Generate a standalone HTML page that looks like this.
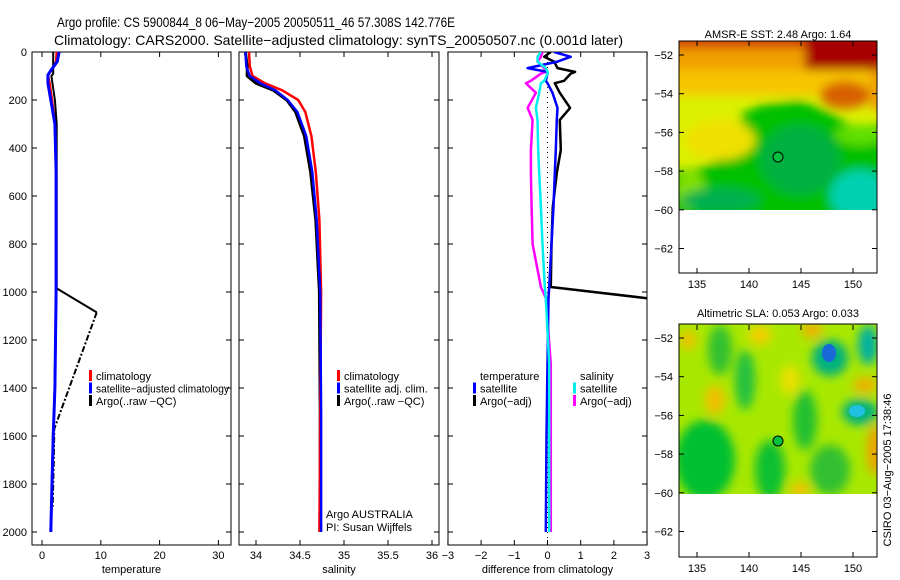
<!DOCTYPE html>
<html><head><meta charset="utf-8"><style>
body{margin:0;background:#fff}
svg{display:block;font-family:"Liberation Sans",sans-serif}
text{fill:#000}
</style></head><body>
<svg id="s" width="900" height="580" viewBox="0 0 900 580">
<defs>
<filter id="bl" x="-20%" y="-20%" width="140%" height="140%"><feGaussianBlur stdDeviation="5"/></filter>
<clipPath id="c1"><rect x="679" y="41" width="198" height="169"/></clipPath>
<clipPath id="c2"><rect x="679" y="324" width="198" height="170"/></clipPath>
<clipPath id="cp3"><rect x="448" y="52" width="199" height="493"/></clipPath>
</defs>
<text x="57" y="27" font-size="14" textLength="398" lengthAdjust="spacingAndGlyphs">Argo profile: CS 5900844_8 06−May−2005 20050511_46 57.308S 142.776E</text>
<text x="54" y="45" font-size="14" textLength="569" lengthAdjust="spacingAndGlyphs">Climatology: CARS2000. Satellite−adjusted climatology: synTS_20050507.nc (0.001d later)</text>

<g>
<text x="778" y="38" font-size="11" text-anchor="middle">AMSR-E SST: 2.48 Argo: 1.64</text>
<g clip-path="url(#c1)">
<rect x="679" y="41" width="198" height="169" fill="#dcf000"/>
<g filter="url(#bl)">
<rect x="660" y="30" width="240" height="45" fill="#f0a000"/>
<rect x="660" y="70" width="240" height="25" fill="#f8c400"/>
<rect x="660" y="30" width="240" height="18" fill="#d04000"/>
<rect x="805" y="30" width="90" height="40" fill="#a80000"/>
<ellipse cx="845" cy="95" rx="25" ry="14" fill="#d86000"/>
<rect x="870" y="70" width="20" height="40" fill="#f0a000"/>
<polygon points="740,115 760,105 800,100 830,112 850,125 890,125 890,230 660,230 660,172 700,168 730,155 745,135" fill="#00c000"/>
<ellipse cx="690" cy="190" rx="15" ry="20" fill="#80e000"/>
<ellipse cx="860" cy="135" rx="25" ry="10" fill="#60e000"/>
<ellipse cx="800" cy="160" rx="40" ry="35" fill="#00b040"/>
<ellipse cx="860" cy="195" rx="30" ry="25" fill="#00d0b0"/>
<ellipse cx="720" cy="200" rx="40" ry="12" fill="#00b050"/>
<ellipse cx="720" cy="140" rx="35" ry="20" fill="#f0e000"/>
</g>
</g>
<circle cx="778" cy="157" r="5" fill="#00c040" stroke="#000" stroke-width="1"/>
<rect x="679" y="41" width="198" height="232" fill="none" stroke="#000"/>
</g>

<g>
<text x="778" y="317" font-size="11" text-anchor="middle">Altimetric SLA: 0.053 Argo: 0.033</text>
<g clip-path="url(#c2)">
<rect x="679" y="324" width="198" height="170" fill="#a8e800"/>
<g filter="url(#bl)">
<ellipse cx="705" cy="460" rx="30" ry="40" fill="#00c030"/>
<ellipse cx="720" cy="350" rx="12" ry="25" fill="#30c030"/>
<ellipse cx="745" cy="380" rx="10" ry="30" fill="#20c040"/>
<ellipse cx="770" cy="470" rx="15" ry="30" fill="#10c030"/>
<ellipse cx="805" cy="420" rx="12" ry="30" fill="#20c030"/>
<ellipse cx="830" cy="470" rx="20" ry="25" fill="#30c030"/>
<ellipse cx="715" cy="400" rx="10" ry="15" fill="#f0c000"/>
<ellipse cx="688" cy="340" rx="8" ry="10" fill="#f0c000"/>
<ellipse cx="760" cy="335" rx="12" ry="10" fill="#f0d000"/>
<ellipse cx="812" cy="330" rx="10" ry="8" fill="#f0b000"/>
<ellipse cx="875" cy="450" rx="8" ry="25" fill="#f0a000"/>
<ellipse cx="865" cy="385" rx="12" ry="8" fill="#f0b000"/>
<ellipse cx="790" cy="380" rx="10" ry="15" fill="#e8e000"/>
<ellipse cx="800" cy="490" rx="10" ry="8" fill="#f0c000"/>
<ellipse cx="830" cy="358" rx="18" ry="18" fill="#00b080"/>
<ellipse cx="860" cy="412" rx="18" ry="13" fill="#00b080"/>
<ellipse cx="868" cy="345" rx="10" ry="20" fill="#00b0a0"/>
</g>
<ellipse cx="829" cy="353" rx="7" ry="9" fill="#1868d8"/>
<ellipse cx="857" cy="411" rx="8" ry="6" fill="#20c0e0"/>
</g>
<circle cx="778" cy="441" r="5" fill="#00c040" stroke="#000" stroke-width="1"/>
<rect x="679" y="324" width="198" height="233" fill="none" stroke="#000"/>
</g>
<text transform="translate(891,470) rotate(-90)" font-size="11" text-anchor="middle">CSIRO 03−Aug−2005 17:38:46</text>
<g id="axes"></g>
<g id="marks"></g>
<g id="marks3" clip-path="url(#cp3)"></g>
</svg>
<script>
const tDepth = [0, 40, 70, 96, 130, 200, 300, 500, 800, 1000, 1200, 1400, 1600, 1800, 2000];
const tClim  = [2.5, 2.4, 1.8, 1.0, 1.3, 1.7, 2.2, 2.4, 2.4, 2.4, 2.3, 2.2, 1.9, 1.7, 1.5];
const tSat   = [2.9, 2.6, 1.7, 1.0, 1.0, 1.5, 2.2, 2.4, 2.4, 2.4, 2.3, 2.2, 1.9, 1.7, 1.5];
const tArgoDepth = [0, 90, 100, 200, 300, 500, 800, 985, 1085, 1570, 1700, 1900];
const tArgo      = [1.9, 1.9, 1.6, 2.2, 2.5, 2.5, 2.5, 2.5, 9.3, 2.1, 2.0, 1.8];
const sDepth = [0, 60, 100, 130, 160, 200, 250, 350, 500, 700, 1000, 1500, 2000];
const sClim  = [33.92, 33.93, 33.96, 34.1, 34.3, 34.48, 34.56, 34.63, 34.68, 34.72, 34.74, 34.73, 34.72];
const sSat   = [33.88, 33.89, 33.93, 34.05, 34.22, 34.36, 34.47, 34.57, 34.64, 34.69, 34.73, 34.74, 34.74];
const sArgo  = [33.88, 33.9, 33.9, 34.0, 34.2, 34.35, 34.45, 34.55, 34.62, 34.68, 34.72, 34.73, 34.73];
const dDepth  = [0, 20, 40, 67, 83, 90, 120, 130, 170, 233, 283, 408, 504, 645, 800, 979, 1025, 1300, 1600, 2000];
const dTSat   = [0.2, 0.7, 0.3, -0.6, 0.0, 0.0, -0.05, 0.0, 0.15, 0.3, 0.28, 0.25, 0.22, 0.18, 0.12, 0.05, 0.03, 0.0, -0.03, -0.05];
const dTArgoDepth = [0, 20, 40, 67, 83, 90, 120, 130, 170, 233, 283, 408, 504, 645, 800, 979, 1029];
const dTArgo  = [0.1, -0.1, 0.2, 0.3, 0.83, 0.7, 0.5, 0.22, 0.37, 0.68, 0.37, 0.4, 0.28, 0.16, 0.12, 0.1, 3.2];
const dSSat   = [-0.2, -0.3, -0.3, -0.05, 0.0, 0.0, -0.1, -0.2, -0.25, -0.35, -0.3, -0.28, -0.25, -0.2, -0.15, -0.08, -0.05, 0.05, 0.05, 0.05];
const dSArgo  = [-0.15, -0.2, -0.3, -0.1, -0.05, -0.2, -0.5, -0.65, -0.35, -0.6, -0.45, -0.5, -0.5, -0.48, -0.45, -0.2, -0.05, 0.1, 0.1, 0.1];
const depthTicks = [0, 200, 400, 600, 800, 1000, 1200, 1400, 1600, 1800, 2000];
const tTicks = [0, 10, 20, 30];
const sTicks = [34, 34.5, 35, 35.5, 36];
const sTickLabels = ["34", "34.5", "35", "35.5", "36"];
const dTicks = [-3, -2, -1, 0, 1, 2, 3];
const latTicks = [-52, -54, -56, -58, -60, -62];
const lonTicks = [135, 140, 145, 150];

const NS = "http://www.w3.org/2000/svg";
const axesG = document.getElementById('axes'), marksG = document.getElementById('marks'), marks3 = document.getElementById('marks3');
function mk(tag, attrs, parent, txt) {
  const e = document.createElementNS(NS, tag);
  for (const k in attrs) e.setAttribute(k, attrs[k]);
  if (txt !== undefined) e.textContent = txt;
  parent.appendChild(e); return e;
}
const Y = d => 52 + 0.24 * d;
const panels = [
  {x0: 32, x1: 231, X: v => 42 + 5.88 * v, ticks: tTicks, labels: tTicks.map(String), label: "temperature", name: "temperature"},
  {x0: 239, x1: 439, X: v => 256 + 88 * (v - 34), ticks: sTicks, labels: sTickLabels, label: "salinity", name: "salinity"},
  {x0: 448, x1: 647, X: v => 547.5 + 33.2 * v, ticks: dTicks, labels: dTicks.map(v => v < 0 ? "−" + (-v) : String(v)), label: "difference from climatology", name: "difference"}
];
panels.forEach((p, i) => {
  const fr = mk('rect', {x: p.x0, y: 52, width: p.x1 - p.x0, height: 493, fill: 'none', stroke: '#000'}, axesG);
  
  
  p.ticks.forEach((t, j) => {
    const x = p.X(t);
    mk('line', {x1: x, x2: x, y1: 545, y2: 540, stroke: '#000'}, axesG);
    mk('line', {x1: x, x2: x, y1: 52, y2: 57, stroke: '#000'}, axesG);
    const tl = mk('text', {x: x, y: 559, 'font-size': 11, 'text-anchor': 'middle'}, axesG, p.labels[j]);
    
    
  });
  const xl = mk('text', {x: (p.x0 + p.x1) / 2, y: 573, 'font-size': 11, 'text-anchor': 'middle'}, axesG, p.label);
  
  
  depthTicks.forEach(d => {
    mk('line', {x1: p.x0, x2: p.x0 + 5, y1: Y(d), y2: Y(d), stroke: '#000'}, axesG);
    mk('line', {x1: p.x1, x2: p.x1 - 5, y1: Y(d), y2: Y(d), stroke: '#000'}, axesG);
    if (i === 0) {
      const yl = mk('text', {x: 27, y: Y(d) + 4, 'font-size': 11, 'text-anchor': 'end'}, axesG, String(d));
      
      
    }
  });
});
const zl = mk('line', {x1: panels[2].X(0), x2: panels[2].X(0), y1: 52, y2: 545, stroke: '#000', 'stroke-dasharray': '1,4'}, axesG);



function line(p, depths, vals, color, w, name, dash, g) {
  const pts = depths.map((d, k) => p.X(vals[k]).toFixed(1) + ',' + Y(d).toFixed(1)).join(' ');
  const a = {points: pts, fill: 'none', stroke: color, 'stroke-width': w, 'stroke-linejoin': 'round'};
  if (dash) a['stroke-dasharray'] = dash;
  const e = mk('polyline', a, g || marksG);
  
  
}
line(panels[0], tDepth, tClim, '#f00', 2.5, 'temperature-climatology-line');
line(panels[0], tArgoDepth.slice(0, 9), tArgo.slice(0, 9), '#000', 2, 'temperature-argo-line');
line(panels[0], tArgoDepth.slice(8), tArgo.slice(8), '#000', 2, 'temperature-argo-dashed-line', '6,2,2,2');
line(panels[0], tDepth, tSat, '#00f', 3, 'temperature-satellite-line');
line(panels[1], sDepth, sArgo, '#000', 3, 'salinity-argo-line');
line(panels[1], sDepth, sClim, '#f00', 2.5, 'salinity-climatology-line');
line(panels[1], sDepth, sSat, '#00f', 2.5, 'salinity-satellite-line');
line(panels[2], dTArgoDepth, dTArgo, '#000', 2.5, 'temperature-argo-diff-line', null, marks3);
line(panels[2], dDepth, dSArgo, '#f0f', 2.5, 'salinity-argo-diff-line', null, marks3);
line(panels[2], dDepth, dTSat, '#00f', 2.5, 'temperature-satellite-diff-line', null, marks3);
line(panels[2], dDepth, dSSat, '#0ee', 2.5, 'salinity-satellite-diff-line', null, marks3);

function legend(x, y, entries, name, fit) {
  entries.forEach((e, k) => {
    const yy = y + k * 12.5;
    if (e[1]) mk('rect', {x: x, y: yy - 6, width: 3, height: 11, fill: e[1]}, marksG);
    const a = {x: x + 7, y: yy + 4, 'font-size': 11};
    if (fit && e[0].length > 20) { a.textLength = fit; a.lengthAdjust = 'spacingAndGlyphs'; }
    const t = mk('text', a, marksG, e[0]);
    
    
  });
}
legend(89, 376, [['climatology', '#f00'], ['satellite−adjusted climatology', '#00f'], ['Argo(..raw −QC)', '#000']], 'temperature-legend', 133);
legend(337, 376, [['climatology', '#f00'], ['satellite adj. clim.', '#00f'], ['Argo(..raw −QC)', '#000']], 'salinity-legend');
legend(473, 376, [['temperature', null], ['satellite', '#00f'], ['Argo(−adj)', '#000']], 'diff-temperature-legend');
legend(573, 376, [['salinity', null], ['satellite', '#0ee'], ['Argo(−adj)', '#f0f']], 'diff-salinity-legend');
const a1 = mk('text', {x: 326, y: 518, 'font-size': 11}, marksG, 'Argo AUSTRALIA');


const a2 = mk('text', {x: 326, y: 531, 'font-size': 11}, marksG, 'PI: Susan Wijffels');



[[55, 273, 'sst'], [338, 557, 'sla']].forEach(m => {
  const latY = lat => m[0] + (-52 - lat) * 19.35;
  latTicks.forEach(l => {
    const y = latY(l);
    mk('line', {x1: 679, x2: 684, y1: y, y2: y, stroke: '#000'}, axesG);
    mk('line', {x1: 877, x2: 872, y1: y, y2: y, stroke: '#000'}, axesG);
    const t = mk('text', {x: 673, y: y + 4, 'font-size': 11, 'text-anchor': 'end'}, axesG, '−' + (-l));
    
    
  });
  lonTicks.forEach(l => {
    const x = 697 + (l - 135) * 10.4;
    mk('line', {x1: x, x2: x, y1: m[1], y2: m[1] - 5, stroke: '#000'}, axesG);
    mk('line', {x1: x, x2: x, y1: m[1] - 232, y2: m[1] - 227, stroke: '#000'}, axesG);
    const t = mk('text', {x: x, y: m[1] + 15, 'font-size': 11, 'text-anchor': 'middle'}, axesG, String(l));
    
    
  });
});
</script>
</body></html>
